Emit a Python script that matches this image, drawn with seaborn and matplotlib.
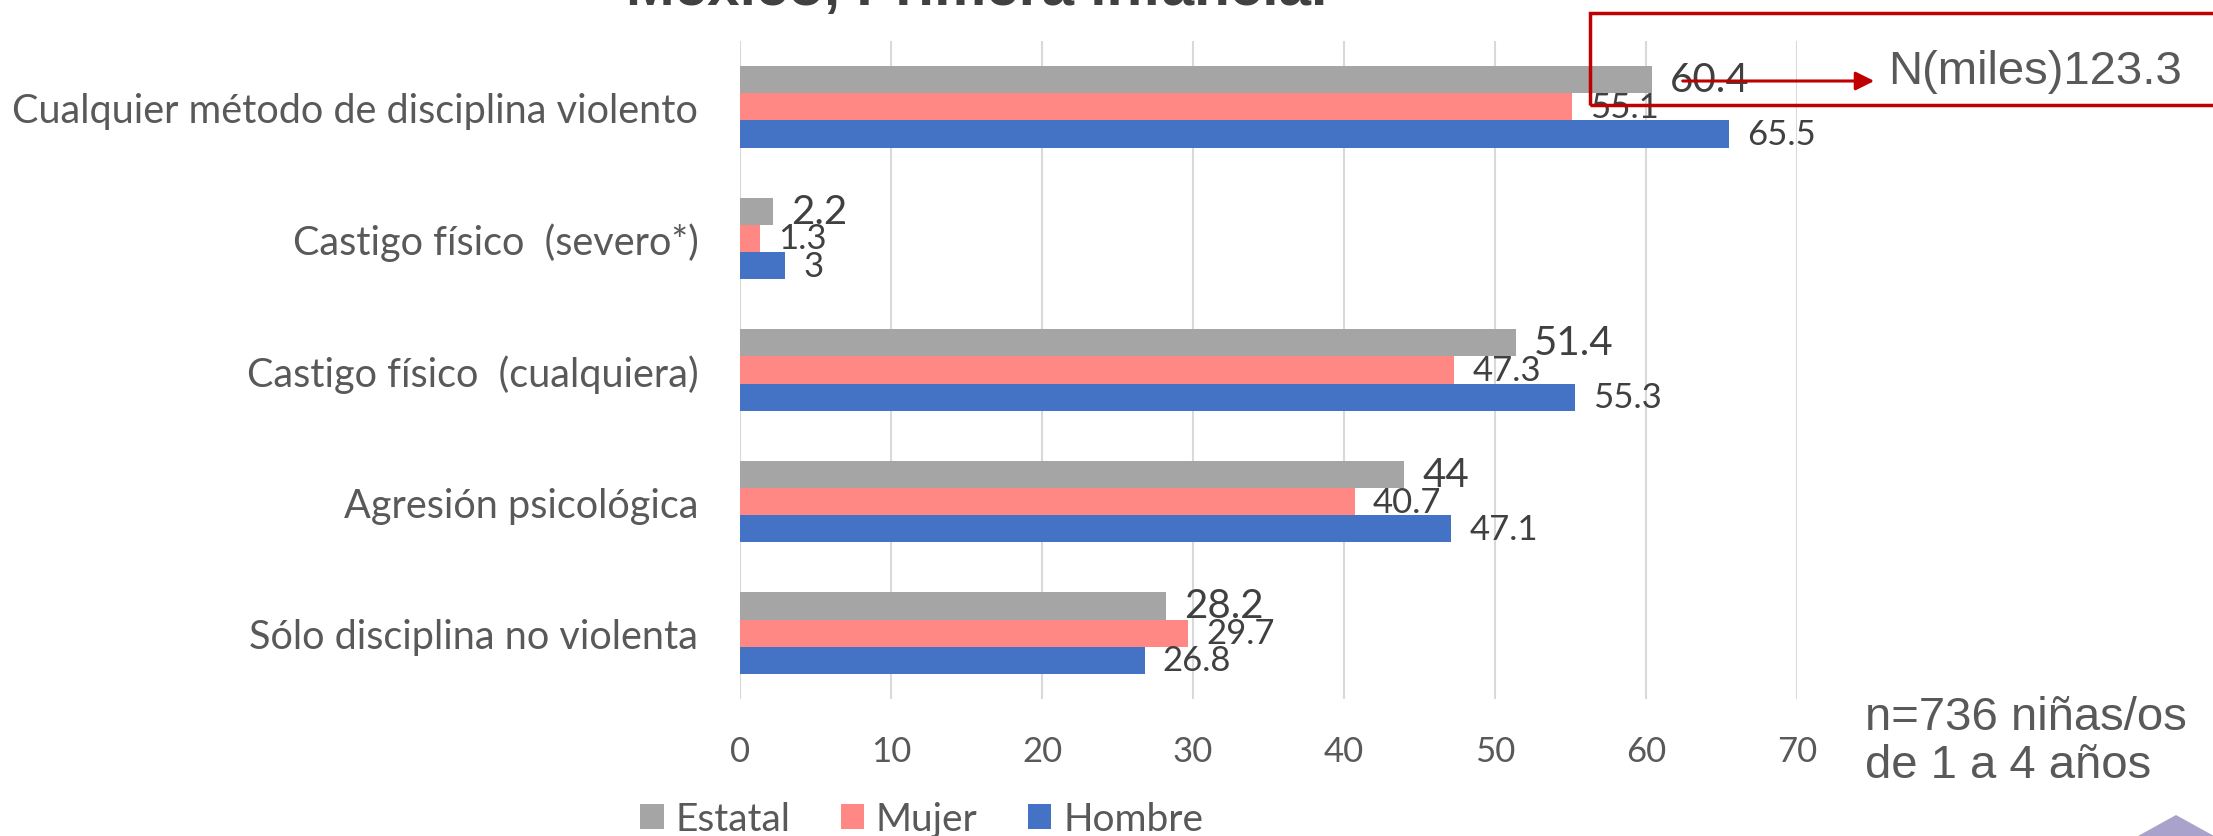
import matplotlib
matplotlib.use("Agg")
import matplotlib.pyplot as plt
from matplotlib.patches import Patch, Polygon, Rectangle
import pandas as pd
import seaborn as sns

categories = [
    "Cualquier método de disciplina violento",
    "Castigo físico  (severo*)",
    "Castigo físico  (cualquiera)",
    "Agresión psicológica",
    "Sólo disciplina no violenta",
]
series = ["Estatal", "Mujer", "Hombre"]
estatal = [60.4, 2.2, 51.4, 44, 28.2]
mujer = [55.1, 1.3, 47.3, 40.7, 29.7]
hombre = [65.5, 3, 55.3, 47.1, 26.8]
x_ticks = [0, 10, 20, 30, 40, 50, 60, 70]

title = "México, Primera infancia."
note_box = "N(miles)123.3"
note_lines = ["n=736 niñas/os", "de 1 a 4 años"]

colors = ["#A5A5A5", "#FF8884", "#4472C4"]
TEXT = "#595959"
DARK = "#404040"

df = pd.DataFrame({
    "categoria": categories * 3,
    "serie": [s for s in series for _ in categories],
    "valor": estatal + mujer + hombre,
})

sns.set_theme(style="white")
plt.rcParams["font.family"] = ["Lato", "DejaVu Sans"]

fig = plt.figure(figsize=(22.13, 8.37), dpi=100)
ax = fig.add_axes([0.3344, 0.1637, 0.812 - 0.3344, 0.9498 - 0.1637])

sns.barplot(
    data=df, x="valor", y="categoria", hue="serie", hue_order=series,
    palette=colors, orient="h", width=0.62, saturation=1,
    linewidth=0, ax=ax, legend=False,
)

ax.set_xlim(0, 70)
ax.set_xticks(x_ticks)
ax.set_xlabel("")
ax.set_ylabel("")
ax.grid(axis="x", color="#D9D9D9", linewidth=1.5)
ax.set_axisbelow(True)
for s in ax.spines.values():
    s.set_visible(False)
ax.tick_params(axis="x", labelsize=25, colors=TEXT, length=0, pad=26)
ax.tick_params(axis="y", labelsize=28.5, colors=TEXT, length=0, pad=30)

# data labels: Estatal a bit larger than the others
sizes = [29, 25, 25]
for cont, fs in zip(ax.containers, sizes):
    ax.bar_label(cont, fmt="%g", padding=13, fontsize=fs, color=DARK)

# legend at the bottom
handles = [Patch(facecolor=c, edgecolor="none") for c in colors]
fig.legend(handles, series, loc="center", bbox_to_anchor=(0.4165, 0.020),
           ncol=3, frameon=False, fontsize=28, handlelength=0.6, handleheight=0.6,
           handletextpad=0.3, columnspacing=1.3, labelcolor=TEXT)

# title, cut off at the top of the slide
fig.text(0.4415, 1 - 5 / 837, title, ha="center", va="baseline", fontsize=42,
         fontweight="bold", color=DARK, family="Liberation Sans")

# red callout box with arrow
fig.patches.append(Rectangle((1590 / 2213, 1 - 106 / 837), 0.4, 92 / 837,
                             transform=fig.transFigure, fill=False,
                             edgecolor="#C00000", linewidth=2.5))
fig.text(1888 / 2213, 1 - 72 / 837, note_box, ha="left", va="center",
         fontsize=34, color=TEXT, family="Liberation Sans")
ax.annotate("", xy=(1877 / 2213, 1 - 82 / 837), xytext=(1680 / 2213, 1 - 82 / 837),
            xycoords="figure fraction", textcoords="figure fraction",
            arrowprops=dict(arrowstyle="-|>", color="#C00000", lw=2.2,
                            mutation_scale=28))

# sample note
fig.text(1865 / 2213, 1 - 718 / 837, note_lines[0], ha="left", va="center",
         fontsize=34, color=TEXT, family="Liberation Sans")
fig.text(1865 / 2213, 1 - 766 / 837, note_lines[1], ha="left", va="center",
         fontsize=34, color=TEXT, family="Liberation Sans")

# decorative triangle in the corner
fig.patches.append(Polygon([(2138 / 2213, 0), (2176 / 2213, 21 / 837), (2214 / 2213, 0)],
                           closed=True, transform=fig.transFigure,
                           facecolor="#A9A3CB", edgecolor="none"))

fig.savefig("out.png", dpi=100)
